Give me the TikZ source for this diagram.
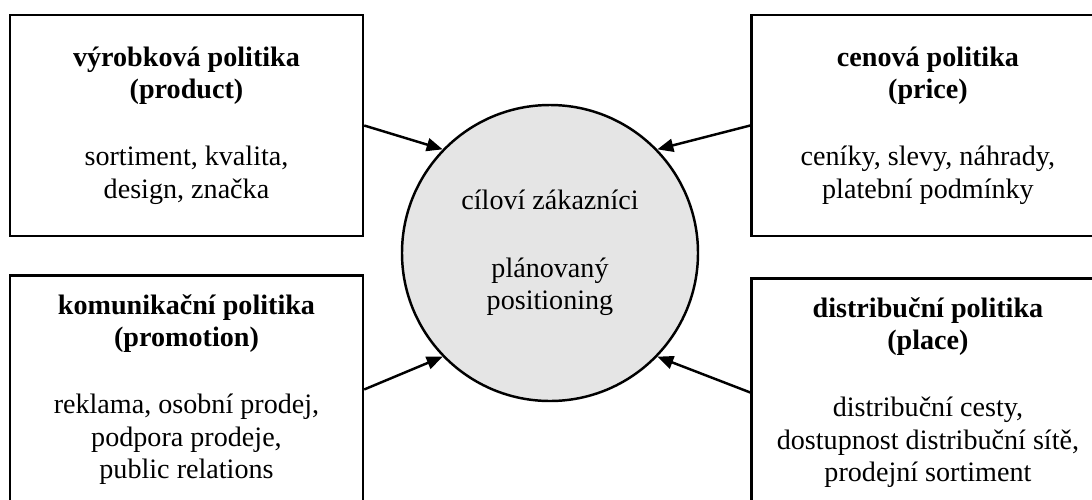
\documentclass[tikz,border=0pt]{standalone}
\usepackage{fontspec}
\setmainfont{Liberation Serif}
\usetikzlibrary{arrows.meta, positioning}
\tikzset{
  mixbox/.style={rectangle, draw, line width=1.4pt, minimum width=7.06cm,
                 minimum height=4.42cm, align=center,
                 font=\fontsize{16}{18.4}\selectfont},
  lowbox/.style={mixbox, minimum height=4.56cm},
  goal/.style={circle, draw, line width=1.4pt, fill=black!10, minimum size=5.92cm,
               inner sep=0pt, align=center, font=\fontsize{16}{18.4}\selectfont},
  arrow/.style={-{Triangle[length=3.2mm, width=2.6mm]}, line width=1.4pt}
}
\begin{document}
\begin{tikzpicture}
  \useasboundingbox (0,0) rectangle (21.84,-9.98);

  \node (target) [goal] at (11.0,-5.06) {c\'{i}lov\'{i} z\'{a}kazn\'{i}ci\\[0.7cm] pl\'{a}novan\'{y}\\positioning};

  \node (product) [mixbox] at (3.73,-2.51)
    {\textbf{výrobková politika}\\\textbf{(product)}\\[0.7cm] sortiment, kvalita,\\design, značka};
  \node (price) [mixbox, right=7.72cm of product]
    {\textbf{cenová politika}\\\textbf{(price)}\\[0.7cm] ceníky, slevy, náhrady,\\platební podmínky};
  \node (promotion) [lowbox, below=0.74cm of product.south, anchor=north]
    {\textbf{komunikační politika}\\\textbf{(promotion)}\\[0.7cm] reklama, osobní prodej,\\podpora prodeje,\\public relations};
  \node (place) [lowbox, below=0.8cm of price.south, anchor=north]
    {\textbf{distribuční politika}\\\textbf{(place)}\\[0.7cm] distribuční cesty,\\dostupnost distribuční sítě,\\prodejní sortiment};

  \draw[arrow] (product.east) -- (target.136);
  \draw[arrow] (price.west) -- (target.44);
  \draw[arrow] (promotion.east) -- (target.224);
  \draw[arrow] (place.west) -- (target.316);
\end{tikzpicture}
\end{document}
